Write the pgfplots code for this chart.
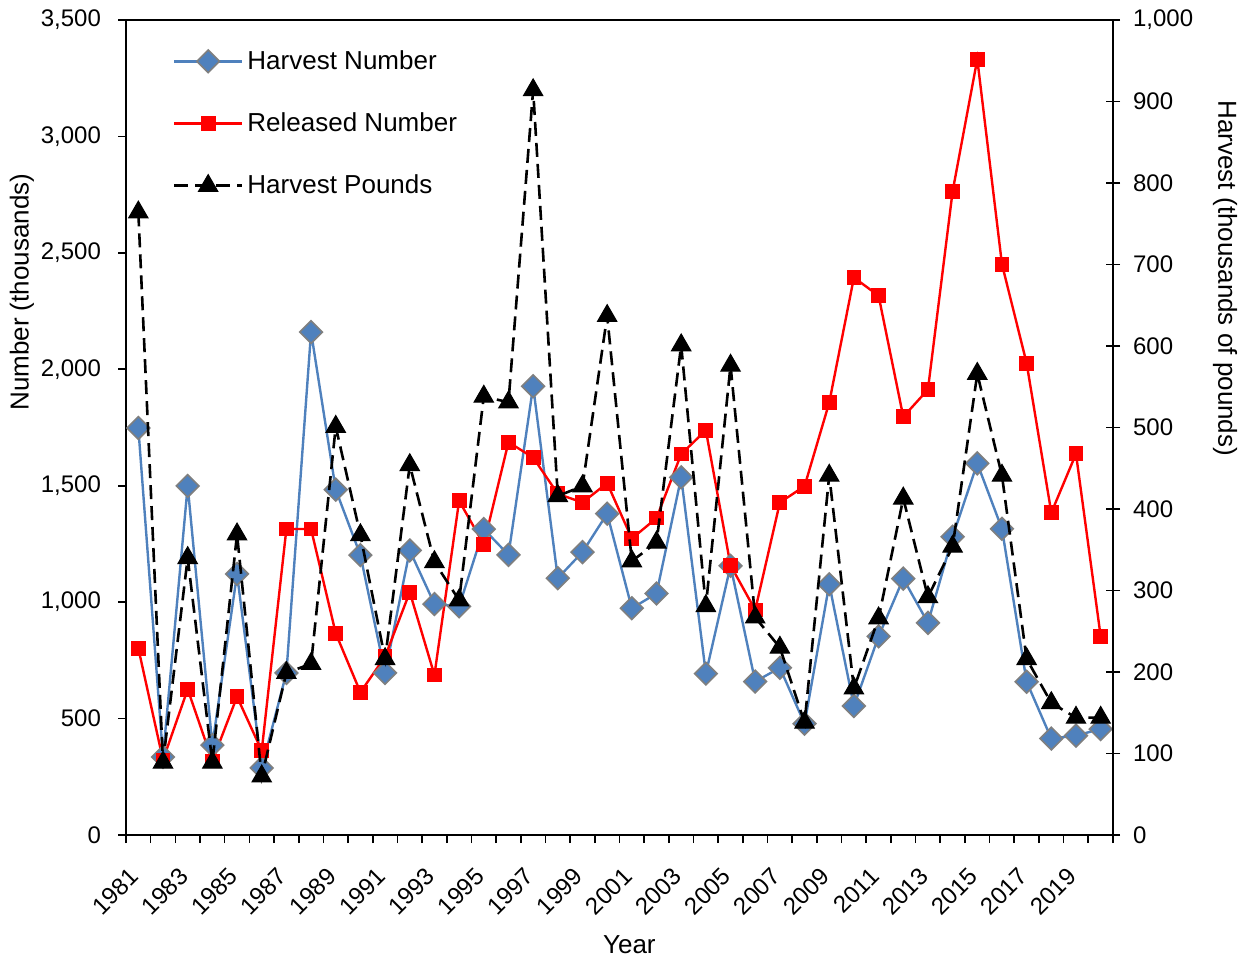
\documentclass[border=0pt]{standalone}
\usepackage{fontspec}
\setmainfont{Liberation Sans}
\usepackage{pgfplots}
\pgfplotsset{compat=1.18}
\definecolor{hnblue}{HTML}{4F81BD}
\definecolor{hngray}{HTML}{7F7F7F}

\pgfplotstableread{
year hn rn hp
1981 1748 802 764
1982 335 322 89
1983 1499 626 340
1984 386 318 89
1985 1121 594 369
1986 288 362 72
1987 696 1314 199
1988 2160 1314 210
1989 1483 866 501
1990 1202 613 368
1991 696 766 216
1992 1222 1043 454
1993 992 687 335
1994 982 1435 288
1995 1314 1248 538
1996 1203 1687 531
1997 1927 1621 914
1998 1103 1465 416
1999 1215 1428 428
2000 1380 1511 637
2001 974 1273 336
2002 1037 1361 359
2003 1536 1636 601
2004 693 1738 281
2005 1156 1158 576
2006 659 966 267
2007 718 1428 230
2008 478 1498 138
2009 1077 1857 441
2010 554 2394 180
2011 853 2316 266
2012 1101 1796 413
2013 911 1913 292
2014 1281 2764 354
2015 1596 3332 566
2016 1315 2451 441
2017 658 2026 216
2018 414 1384 162
2019 427 1637 144
2020 455 853 144
}\datatable

\begin{document}
\begin{tikzpicture}
\useasboundingbox (-63pt,-62.5pt) rectangle (561pt,417.5pt);
\pgfplotsset{
  every axis/.append style={
    scale only axis, width=493.5pt, height=407.5pt,
    xmin=1980.5, xmax=2020.5,
    font=\fontsize{12}{14.4}\selectfont,
    /pgf/number format/assume math mode=true,
    /pgf/number format/1000 sep={,},
    tick align=outside,
    major tick length=4pt,
    axis line style={line width=1.2pt},
    every tick/.style={black, line width=0.8pt},
  },
  hnstyle/.style={color=hnblue, line width=1.2pt, mark=square*, mark size=4pt,
    mark options={rotate=45, fill=hnblue, draw=hngray, line width=0.8pt, solid}},
  rnstyle/.style={color=red, line width=1.2pt, mark=square*, mark size=3.4pt,
    mark options={fill=red, draw=red, line width=0.6pt, solid}},
  hpstyle/.style={color=black, line width=1.3pt, dash pattern=on 7pt off 3.5pt,
    mark=triangle*, mark size=5.6pt, mark options={solid, fill=black, line width=0.5pt}},
}
\begin{axis}[at={(0,0)}, anchor=south west,
  ymin=0, ymax=3500, ytick={0,500,...,3500},
  ytick pos=left,
  yticklabel style={xshift=-5pt},
  xtick={1980.5,1981.5,...,2020.5}, xticklabels={},
  xtick pos=bottom,
  extra x ticks={1981,1983,...,2019},
  extra x tick labels={1981,1983,1985,1987,1989,1991,1993,1995,1997,1999,2001,2003,2005,2007,2009,2011,2013,2015,2017,2019},
  extra x tick style={major tick length=0pt, xticklabel style={xshift=-5pt, yshift=-15.5pt, rotate=45, anchor=north east, inner sep=0pt}},
  ylabel={Number (thousands)},
  xlabel={Year},
  every axis y label/.style={at={(axis description cs:-0.1054,0.666)}, rotate=90, anchor=center, font=\fontsize{13}{15.6}\selectfont},
  every axis x label/.style={at={(axis description cs:0.51,-0.135)}, anchor=center, font=\fontsize{13}{15.6}\selectfont},
]
\addplot[hnstyle] table[x=year, y=hn] {\datatable};
\addplot[rnstyle] table[x=year, y=rn] {\datatable};
\end{axis}
\begin{axis}[at={(0,0)}, anchor=south west,
  ymin=0, ymax=1000, ytick={0,100,...,1000},
  axis x line=none, axis y line*=right,
  tick align=center, major tick length=7pt,
  yticklabel style={xshift=3pt},
  ylabel={Harvest (thousands of pounds)},
  every axis y label/.style={at={(axis description cs:1.1135,0.683)}, rotate=-90, anchor=center, font=\fontsize{13}{15.6}\selectfont},
  legend style={at={(rel axis cs:0.041,0.973)}, anchor=north west, draw=none, fill=none,
    row sep=16.2pt, font=\fontsize{13}{15.6}\selectfont},
  legend cell align=left,
  legend image code/.code={\draw[mark repeat=2, mark phase=2] plot coordinates {(0pt,0pt) (17pt,0pt) (34pt,0pt)};},
]
\addlegendimage{hnstyle}
\addlegendentry{Harvest Number}
\addlegendimage{rnstyle}
\addlegendentry{Released Number}
\addplot[hpstyle] table[x=year, y=hp] {\datatable};
\addlegendentry{Harvest Pounds}
\end{axis}
\end{tikzpicture}
\end{document}
